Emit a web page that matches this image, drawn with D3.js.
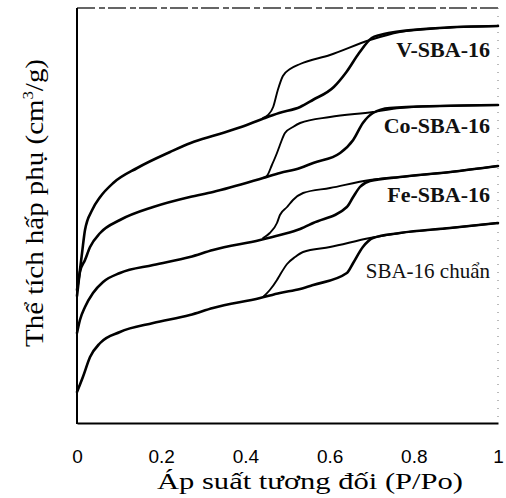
<!DOCTYPE html>
<html lang="vi">
<head>
  <meta charset="UTF-8" />
  <title>Đẳng nhiệt hấp phụ N2</title>
  <script src="https://cdnjs.cloudflare.com/ajax/libs/d3/7.8.4/d3.min.js"></script>
  <style>
    body { margin: 0; background: #fff; overflow: hidden; }
    svg { display: block; }
    .iso { fill: none; stroke: #000; stroke-linejoin: round; stroke-linecap: round; }
    .title { font-family: "Liberation Serif", "Times New Roman", serif; fill: #000; }
    .lbl { font-family: "Liberation Serif", "Times New Roman", serif; fill: #111; }
  </style>
</head>
<body>
  <svg width="506" height="498"></svg>
  <script>
    // relative pressure ticks
    const xTicks = [0, 0.2, 0.4, 0.6, 0.8, 1];
    const xTickLabels = ["0", "0.2", "0.4", "0.6", "0.8", "1"];

    // V-SBA-16 (adsorption / desorption), volume in arbitrary units
    const vAdsP = [0, 0.007, 0.012, 0.019, 0.036, 0.055, 0.086, 0.143, 0.221, 0.27, 0.33, 0.39, 0.44, 0.48, 0.53, 0.56, 0.61, 0.64, 0.67, 0.70, 0.72, 0.74, 0.86, 1.0];
    const vAdsV = [127, 153, 170, 193, 213, 226, 240, 255, 271, 280, 288, 296, 304, 310, 316, 323, 336, 351, 370, 385, 388, 390, 395, 397];
    const vDesP = [0.442, 0.454, 0.466, 0.477, 0.489, 0.506, 0.530, 0.601, 0.696, 0.767, 0.862, 1.0];
    const vDesV = [305, 308, 316, 333, 347, 354, 359, 368, 383, 391, 395, 397];

    // Co-SBA-16
    const coAdsP = [0, 0.007, 0.019, 0.031, 0.055, 0.102, 0.181, 0.268, 0.323, 0.442, 0.482, 0.530, 0.561, 0.625, 0.656, 0.679, 0.703, 0.743, 0.862, 1.0];
    const coAdsV = [133, 151, 163, 176, 190, 203, 216, 226, 231, 245, 250, 255, 260, 270, 283, 300, 310, 315, 317, 318];
    const coDesP = [0.442, 0.451, 0.463, 0.475, 0.482, 0.494, 0.513, 0.530, 0.601, 0.703, 0.767, 0.862, 1.0];
    const coDesV = [245, 247, 258, 270, 278, 290, 296, 300, 306, 311, 315, 317, 318];

    // Fe-SBA-16
    const feAdsP = [0, 0.007, 0.019, 0.038, 0.062, 0.102, 0.181, 0.268, 0.323, 0.435, 0.482, 0.53, 0.561, 0.641, 0.656, 0.672, 0.696, 0.767, 0.887, 1.0];
    const feAdsV = [90, 103, 116, 130, 141, 150, 158, 166, 173, 183, 188, 194, 200, 216, 226, 236, 242, 246, 251, 257];
    const feDesP = [0.442, 0.458, 0.475, 0.482, 0.499, 0.513, 0.537, 0.601, 0.696, 0.767, 0.887, 1.0];
    const feDesV = [185, 190, 200, 208, 216, 223, 230, 235, 243, 246, 251, 257];

    // SBA-16 chuẩn
    const sAdsP = [0, 0.014, 0.031, 0.055, 0.102, 0.181, 0.268, 0.323, 0.435, 0.482, 0.53, 0.561, 0.641, 0.656, 0.679, 0.703, 0.767, 0.886, 1.0];
    const sAdsV = [31, 46, 66, 80, 91, 100, 108, 115, 125, 130, 134, 138, 150, 160, 176, 185, 190, 195, 200];
    const sDesP = [0.442, 0.458, 0.475, 0.482, 0.499, 0.518, 0.537, 0.601, 0.696, 0.767, 0.886, 1.0];
    const sDesV = [126, 133, 143, 148, 159, 166, 171, 176, 185, 190, 195, 200];

    const sampleNames = ["V-SBA-16", "Co-SBA-16", "Fe-SBA-16", "SBA-16 chuẩn"];

    const svg = d3.select("svg");
    const plotL = 77, plotR = 498, plotT = 8, plotB = 423;

    const x = d3.scaleLinear().domain([0, 1]).range([plotL, plotR]);
    const y = d3.scaleLinear().domain([0, 415]).range([plotB, plotT]);

    const zip = (ps, vs) => ps.map((p, i) => [p, vs[i]]);
    const series = [
      { ads: zip(vAdsP, vAdsV), des: zip(vDesP, vDesV) },
      { ads: zip(coAdsP, coAdsV), des: zip(coDesP, coDesV) },
      { ads: zip(feAdsP, feAdsV), des: zip(feDesP, feDesV) },
      { ads: zip(sAdsP, sAdsV), des: zip(sDesP, sDesV) }
    ];

    // frame: solid left/bottom, broken top/right like the scan
    svg.append("line").attr("x1", plotL).attr("x2", plotR).attr("y1", plotT).attr("y2", plotT)
      .attr("stroke", "#333").attr("stroke-width", 1.5).attr("stroke-dasharray", "18,4,6,3");
    svg.append("line").attr("x1", plotR).attr("x2", plotR).attr("y1", plotT).attr("y2", plotB)
      .attr("stroke", "#777").attr("stroke-width", 1).attr("stroke-dasharray", "1,7");

    const xAxis = d3.axisBottom(x)
      .tickValues(xTicks)
      .tickFormat((d, i) => xTickLabels[i])
      .tickSize(0)
      .tickPadding(27);
    const gx = svg.append("g").attr("transform", `translate(0,${plotB})`).call(xAxis);
    gx.select(".domain").attr("stroke", "#000").attr("stroke-width", 2);
    gx.selectAll(".tick text")
      .attr("font-family", "'Liberation Sans', Arial, sans-serif")
      .attr("font-size", 19)
      .attr("fill", "#000");

    svg.append("line").attr("x1", plotL).attr("x2", plotL).attr("y1", plotT).attr("y2", plotB + 1)
      .attr("stroke", "#000").attr("stroke-width", 2);

    const line = d3.line()
      .x(d => x(d[0]))
      .y(d => y(d[1]))
      .curve(d3.curveMonotoneX);

    series.forEach(s => {
      svg.append("path").attr("class", "iso").attr("d", line(s.des)).attr("stroke-width", 1.9);
      svg.append("path").attr("class", "iso").attr("d", line(s.ads)).attr("stroke-width", 2.6);
    });

    // sample labels
    const labelPos = [[490, 57], [490, 133], [490, 202], [490, 278]];
    svg.selectAll(".lbl")
      .data(sampleNames)
      .enter()
      .append("text")
      .attr("class", "lbl")
      .attr("x", (d, i) => labelPos[i][0])
      .attr("y", (d, i) => labelPos[i][1])
      .attr("text-anchor", "end")
      .attr("font-size", (d, i) => i < 3 ? 22 : 21)
      .style("font-weight", (d, i) => i < 3 ? "bold" : "normal")
      .text(d => d);

    // axis titles
    svg.append("text")
      .attr("class", "title")
      .attr("x", 157).attr("y", 489)
      .attr("font-size", 23)
      .attr("textLength", 306)
      .attr("lengthAdjust", "spacingAndGlyphs")
      .text("Áp suất tương đối (P/Po)");

    const yt = svg.append("text")
      .attr("class", "title")
      .attr("transform", "translate(43,347) rotate(-90)")
      .attr("font-size", 26)
      .attr("textLength", 288)
      .attr("lengthAdjust", "spacingAndGlyphs");
    yt.append("tspan").text("Thể tích hấp phụ (cm");
    yt.append("tspan").attr("font-size", 15).attr("dy", -10).text("3");
    yt.append("tspan").attr("dy", 10).text("/g)");
  </script>
</body>
</html>
